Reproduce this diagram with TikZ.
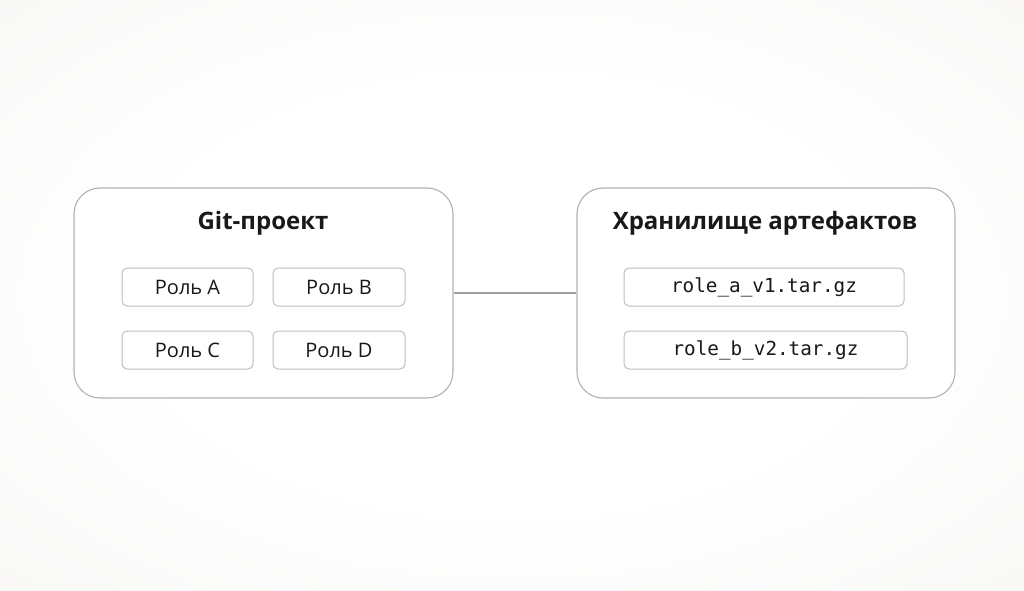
\documentclass[tikz,border=0pt]{standalone}
\usepackage{fontspec}
\setmainfont{Open Sans}
\newfontfamily\monofnt{DejaVu Sans Mono}
\definecolor{bgEdge}{RGB}{243,242,240}
\definecolor{boxLine}{RGB}{178,178,178}
\definecolor{innerLine}{RGB}{190,190,190}
\definecolor{txt}{RGB}{25,25,25}
\definecolor{linkCol}{RGB}{160,160,160}
\pgfdeclareradialshading{bgshade}{\pgfpoint{0bp}{0bp}}{color(0bp)=(white); color(18bp)=(white); color(50bp)=(bgEdge); color(80bp)=(bgEdge)}
\begin{document}
\begin{tikzpicture}[x=1pt,y=-1pt,
  outerbox/.style={draw=boxLine, line width=1.1pt, fill=white, rounded corners=26pt, minimum width=#1, minimum height=210pt, inner sep=0pt},
  innerbox/.style={draw=innerLine, line width=1pt, fill=white, rounded corners=5pt, minimum width=#1, minimum height=38pt, inner sep=0pt, text=txt},
  titletext/.style={font=\fontsize{24}{28}\selectfont\bfseries, text=txt, inner sep=0pt},
  roletext/.style={font=\fontsize{20}{24}\selectfont},
  monotext/.style={font=\monofnt\fontsize{19.3}{22}\selectfont}]
\useasboundingbox (0,0) rectangle (1024,590);
\shade[shading=bgshade] (0,0) rectangle (1024,590);
\node[outerbox=379pt] (git) at (263.5,293) {};
\node[outerbox=378pt] (store) at (766,293) {};
\draw[linkCol, line width=2.4pt] (git.east) -- (store.west);
\node[titletext] (gittitle) at (263,223) {Git-проект};
\node[titletext] (storetitle) at (765,223) {Хранилище артефактов};
\node[innerbox=131pt, roletext] (ra) at (187.5,287) {Роль A};
\node[innerbox=132pt, roletext] (rb) at (339,287) {Роль B};
\node[innerbox=131pt, roletext] (rc) at (187.5,350) {Роль C};
\node[innerbox=132pt, roletext] (rd) at (339,350) {Роль D};
\node[innerbox=280pt, monotext] (fa) at (764,287) {role\_a\_v1.tar.gz};
\node[innerbox=283pt, monotext] (fb) at (765.5,350) {role\_b\_v2.tar.gz};
\end{tikzpicture}
\end{document}
